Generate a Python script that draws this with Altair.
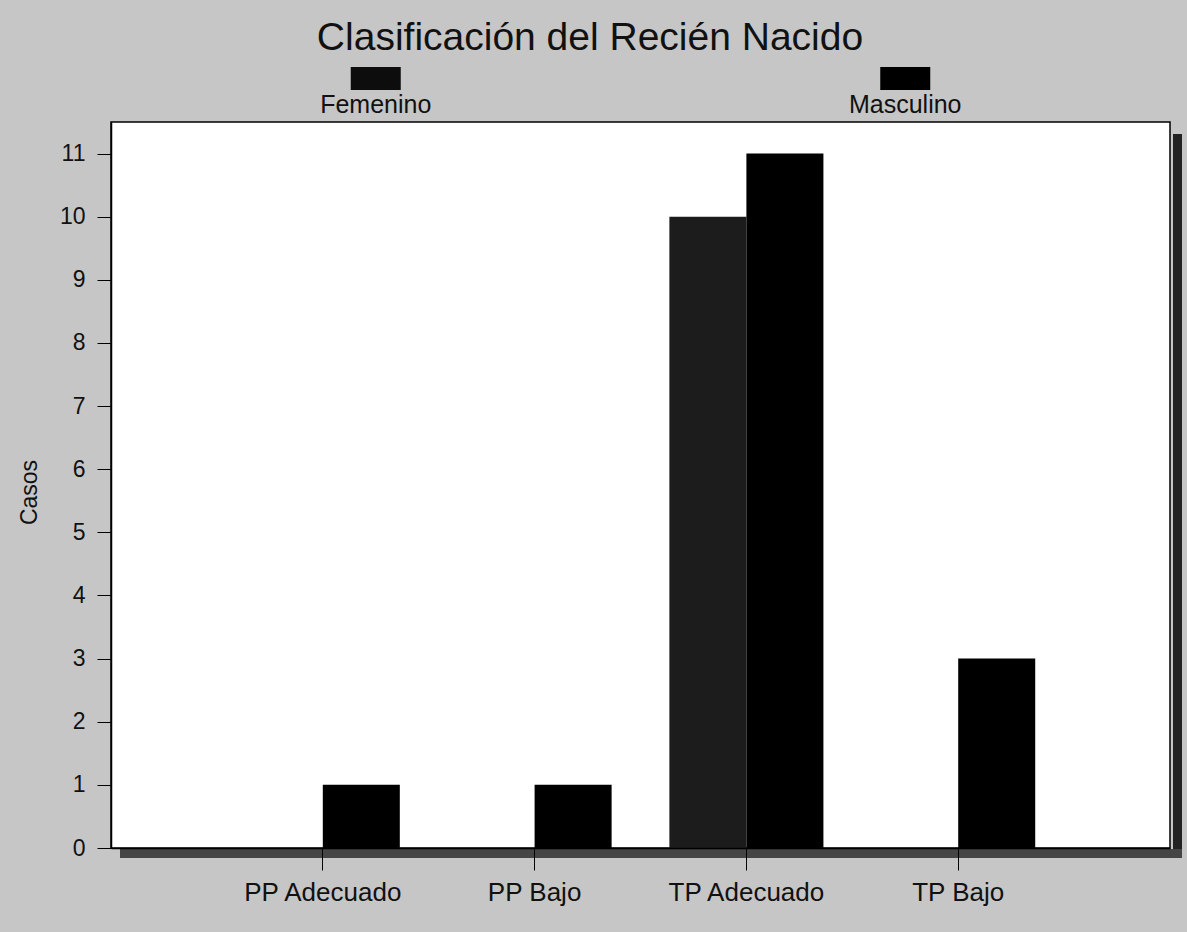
import altair as alt
import pandas as pd

# Data: newborn classification by sex
categories = ["PP Adecuado", "PP Bajo", "TP Adecuado", "TP Bajo"]
series = ["Femenino", "Masculino"]
femenino = [0, 0, 10, 0]
masculino = [1, 1, 11, 3]
y_ticks = list(range(0, 12))
title_text = "Clasificación del Recién Nacido"
y_title = "Casos"
series_colors = ["#1c1c1c", "#000000"]

W, H = 1059, 726
FONT = "Liberation Sans"

rows = []
for c, f, m in zip(categories, femenino, masculino):
    rows.append({"clase": c, "sexo": series[0], "casos": f})
    rows.append({"clase": c, "sexo": series[1], "casos": m})
df = pd.DataFrame(rows)

one = pd.DataFrame({"k": [0]})

bars = alt.Chart(df).mark_bar(strokeWidth=0).encode(
    x=alt.X(
        "clase:N",
        sort=categories,
        scale=alt.Scale(paddingInner=0, paddingOuter=0.5),
        axis=alt.Axis(
            title=None, labelAngle=0, labelFont=FONT, labelFontSize=26,
            labelColor="#111111", tickSize=22, tickColor="#000000",
            domainColor="#000000", domainWidth=1.5, labelPadding=30,
            labelBaseline="alphabetic", zindex=2,
        ),
    ),
    xOffset=alt.XOffset(
        "sexo:N", sort=series,
        scale=alt.Scale(paddingInner=0, paddingOuter=0.375),
    ),
    y=alt.Y(
        "casos:Q",
        scale=alt.Scale(domain=[0, 11.5], nice=False),
        axis=alt.Axis(
            title=y_title, values=y_ticks, grid=False, labelFont=FONT,
            labelFontSize=23, labelColor="#111111", tickSize=14,
            tickColor="#000000", domainColor="#000000", domainWidth=1.5,
            labelPadding=12, titleFont=FONT, titleFontSize=23,
            titleFontWeight="normal", titleColor="#111111",
            titleX=-82, titleY=370, titleAngle=270, titleBaseline="middle",
            titleAlign="center", zindex=2,
        ),
    ),
    color=alt.Color(
        "sexo:N", scale=alt.Scale(domain=series, range=series_colors), legend=None
    ),
)

# Drop shadow along the right and bottom edges of the plot frame
shadow_right = alt.Chart(one).mark_rect(color="#222222").encode(
    x=alt.value(W + 3), x2=alt.value(W + 12), y=alt.value(12), y2=alt.value(H + 10)
)
shadow_bottom = alt.Chart(one).mark_rect(color="#454545").encode(
    x=alt.value(9), x2=alt.value(W + 12), y=alt.value(H + 1), y2=alt.value(H + 10)
)

title = alt.Chart(one).mark_text(
    text=title_text, font=FONT, fontSize=39, color="#111111",
    align="center", baseline="alphabetic",
).encode(x=alt.value(479), y=alt.value(-72))

# Legend: swatch above its label, centred at the quarter points of the frame
legend_layers = []
for i, (name, col) in enumerate(zip(series, ["#0d0d0d", "#000000"])):
    cx = W * (0.25 + 0.5 * i)
    legend_layers.append(
        alt.Chart(one).mark_rect(color=col).encode(
            x=alt.value(cx - 25), x2=alt.value(cx + 25),
            y=alt.value(-55), y2=alt.value(-32),
        )
    )
    legend_layers.append(
        alt.Chart(one).mark_text(
            text=name, font=FONT, fontSize=25, color="#111111",
            align="center", baseline="alphabetic",
        ).encode(x=alt.value(cx), y=alt.value(-9))
    )

chart = alt.layer(shadow_right, shadow_bottom, bars, title, *legend_layers).properties(
    width=W,
    height=H,
    padding={"left": 111, "top": 122, "right": 17, "bottom": 84},
    autosize=alt.AutoSizeParams(type="none"),
    background="#c6c6c6",
).configure_view(
    fill="#ffffff", stroke="#000000", strokeWidth=1.5
)

chart.save("out.html", embed_options={"renderer": "svg", "actions": False})
